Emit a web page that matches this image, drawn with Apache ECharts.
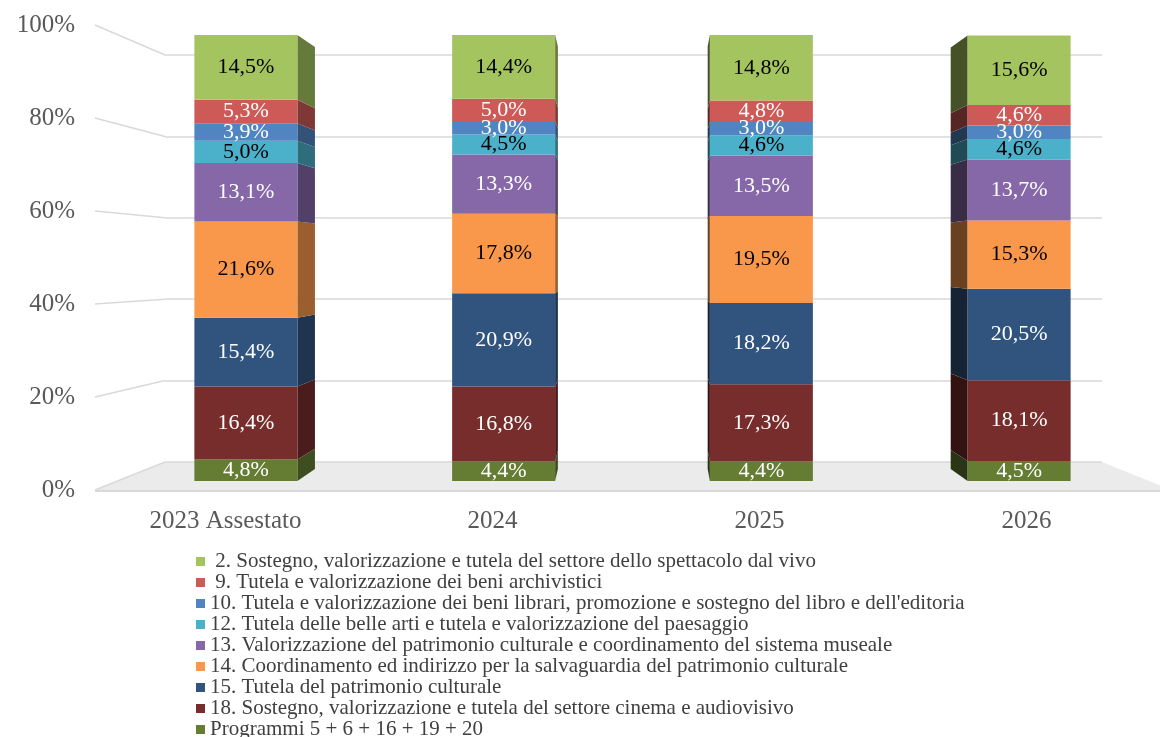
<!DOCTYPE html>
<html>
<head>
    <meta charset="utf-8">
    <title>Ripartizione per programma</title>
    <script src="https://cdn.jsdelivr.net/npm/echarts@6/dist/echarts.min.js"></script>
    <style>
        html, body { margin: 0; padding: 0; background: #fff; }
        #chartmain { width: 1160px; height: 737px; }
    </style>
</head>
<body>
<div id="chartmain"></div>
<script type="text/javascript">
    // dati (percentuali)
    var categories = ['2023 Assestato', '2024', '2025', '2026'];
    var programmi = [4.8, 4.4, 4.4, 4.5];       // Programmi 5 + 6 + 16 + 19 + 20
    var prog18 = [16.4, 16.8, 17.3, 18.1];
    var prog15 = [15.4, 20.9, 18.2, 20.5];
    var prog14 = [21.6, 17.8, 19.5, 15.3];
    var prog13 = [13.1, 13.3, 13.5, 13.7];
    var prog12 = [5.0, 4.5, 4.6, 4.6];
    var prog10 = [3.9, 3.0, 3.0, 3.0];
    var prog09 = [5.3, 5.0, 4.8, 4.6];
    var prog02 = [14.5, 14.4, 14.8, 15.6];
    var yTicks = [0, 20, 40, 60, 80, 100];

    var nomi = [
        'Programmi 5 + 6 + 16 + 19 + 20',
        '18. Sostegno, valorizzazione e tutela del settore cinema e audiovisivo',
        '15. Tutela del patrimonio culturale',
        '14. Coordinamento ed indirizzo per la salvaguardia del patrimonio culturale',
        '13. Valorizzazione del patrimonio culturale e coordinamento del sistema museale',
        '12. Tutela delle belle arti e tutela e valorizzazione del paesaggio',
        '10. Tutela e valorizzazione dei beni librari, promozione e sostegno del libro e dell\'editoria',
        ' 9. Tutela e valorizzazione dei beni archivistici',
        ' 2. Sostegno, valorizzazione e tutela del settore dello spettacolo dal vivo'
    ];
    var valori = [programmi, prog18, prog15, prog14, prog13, prog12, prog10, prog09, prog02];
    var colori = ['#647d32', '#772d2b', '#31547f', '#f9984b', '#8668a8', '#4bb0c9', '#5085c2', '#cd5a56', '#a4c45f'];
    var coloriTesto = ['#fff', '#fff', '#fff', '#000', '#fff', '#000', '#fff', '#fff', '#000'];

    // layout
    var LEFT_A = 95, LEFT_B = 165, RIGHT_B = 1102;
    var BAR_W = 103;
    var VP_X = 640, SIDE_K = 0.0446, DEPTH_S = 0.946;
    var FONT = '"Liberation Serif", "Times New Roman", serif';

    function fmt(v) {
        return v.toFixed(1).replace('.', ',') + '%';
    }

    function scuro(hex, f) {
        var r = parseInt(hex.substr(1, 2), 16), g = parseInt(hex.substr(3, 2), 16), b = parseInt(hex.substr(5, 2), 16);
        return 'rgb(' + Math.round(r * f) + ',' + Math.round(g * f) + ',' + Math.round(b * f) + ')';
    }

    // facce laterali: [categoria, inizio, fine, indice serie]
    var lati = [];
    for (var c = 0; c < categories.length; c++) {
        var acc = 0;
        for (var s = 0; s < valori.length; s++) {
            lati.push([c, acc, acc + valori[s][c], s]);
            acc += valori[s][c];
        }
    }

    var myChart = echarts.init(document.getElementById('chartmain'));

    var series = [];
    for (var i = 0; i < valori.length; i++) {
        series.push({
            name: nomi[i],
            type: 'bar',
            stack: 'tot',
            xAxisIndex: 2,
            yAxisIndex: 2,
            barWidth: BAR_W,
            data: valori[i],
            itemStyle: { color: colori[i] },
            z: 3,
            label: {
                show: true,
                position: 'inside',
                formatter: function (p) { return fmt(p.value); },
                color: coloriTesto[i],
                fontFamily: FONT,
                fontSize: 22
            }
        });
    }
    series.push({
        name: 'lati',
        type: 'custom',
        xAxisIndex: 2,
        yAxisIndex: 2,
        z: 2,
        silent: true,
        data: lati,
        renderItem: function (params, api) {
            var cat = api.value(0), a = api.value(1), b = api.value(2), si = api.value(3);
            var pBot = api.coord([cat, a]), pTop = api.coord([cat, b]);
            var yTop = api.coord([cat, 100])[1], yBot = api.coord([cat, 0])[1];
            var mid = (yTop + yBot) / 2;
            var d = VP_X - pBot[0];
            // lato più stretto vicino al centro della prospettiva
            var off = SIDE_K * d * Math.min(1, Math.abs(d) / 300);
            var xe = off > 0 ? pBot[0] + BAR_W / 2 : pBot[0] - BAR_W / 2;
            var ybTop = mid + (pTop[1] - mid) * DEPTH_S;
            var ybBot = mid + (pBot[1] - mid) * DEPTH_S;
            return {
                type: 'polygon',
                shape: { points: [[xe, pBot[1]], [xe, pTop[1]], [xe + off, ybTop], [xe + off, ybBot]] },
                style: { fill: scuro(colori[si], off > 0 ? 0.62 : 0.42) }
            };
        }
    });

    var option = {
        backgroundColor: '#fff',
        animation: false,
        grid: [
            { left: LEFT_A, width: 60, top: 25, bottom: 247 },                   // etichette asse y
            { left: LEFT_B, right: 1160 - RIGHT_B, top: 55, bottom: 275 },       // parete di fondo
            { left: 117, right: 12, top: 35, bottom: 256 },                      // barre
            { left: 92, right: -7, top: 35, bottom: 256 }                        // etichette categorie
        ],
        xAxis: [
            { gridIndex: 0, type: 'value', show: false },
            { gridIndex: 1, type: 'value', show: false },
            { gridIndex: 2, type: 'category', data: categories, show: false },
            {
                gridIndex: 3, type: 'category', data: categories,
                axisLine: { show: false }, axisTick: { show: false },
                axisLabel: { color: '#595959', fontFamily: FONT, fontSize: 25, margin: 28 }
            }
        ],
        yAxis: [
            {
                gridIndex: 0, type: 'value', min: 0, max: 100, interval: 20,
                axisLine: { show: false }, axisTick: { show: false }, splitLine: { show: false },
                axisLabel: { formatter: '{value}%', color: '#595959', fontFamily: FONT, fontSize: 25, margin: 20 }
            },
            {
                gridIndex: 1, type: 'value', min: 0, max: 100, interval: 20,
                axisLine: { show: false }, axisTick: { show: false }, axisLabel: { show: false },
                splitLine: { lineStyle: { color: '#d9d9d9', width: 1.5 } }
            },
            { gridIndex: 2, type: 'value', min: 0, max: 100, show: false, splitLine: { show: false } },
            { gridIndex: 3, type: 'value', min: 0, max: 100, show: false, splitLine: { show: false } }
        ],
        legend: {
            data: nomi.slice().reverse(),
            orient: 'vertical',
            left: 196,
            top: 551,
            height: 230,
            padding: 0,
            itemWidth: 9,
            itemHeight: 9,
            itemGap: 0,
            icon: 'rect',
            selectedMode: false,
            textStyle: { color: '#404040', fontFamily: FONT, fontSize: 21, lineHeight: 20.8 }
        },
        series: series
    };
    myChart.setOption(option);

    // pavimento e linee di raccordo tra etichette e parete di fondo
    var grafica = [];
    var yA0 = myChart.convertToPixel({ yAxisIndex: 0 }, 0);
    var yB0 = myChart.convertToPixel({ yAxisIndex: 1 }, 0);
    grafica.push({
        type: 'polygon', z: -10,
        shape: { points: [[LEFT_A, yA0], [LEFT_B, yB0], [RIGHT_B, yB0], [RIGHT_B + (LEFT_B - LEFT_A), yA0]] },
        style: { fill: '#ebebeb' }
    });
    grafica.push({
        type: 'line', z: -9,
        shape: { x1: LEFT_A, y1: yA0 + 1, x2: 1160, y2: yA0 + 1 },
        style: { stroke: '#d9d9d9', lineWidth: 2 }
    });
    for (var t = 0; t < yTicks.length; t++) {
        var ya = myChart.convertToPixel({ yAxisIndex: 0 }, yTicks[t]);
        var yb = myChart.convertToPixel({ yAxisIndex: 1 }, yTicks[t]);
        grafica.push({
            type: 'line', z: -9,
            shape: { x1: LEFT_A, y1: ya, x2: LEFT_B, y2: yb },
            style: { stroke: '#d9d9d9', lineWidth: 1.5 }
        });
    }
    myChart.setOption({ graphic: grafica });
</script>
</body>
</html>
